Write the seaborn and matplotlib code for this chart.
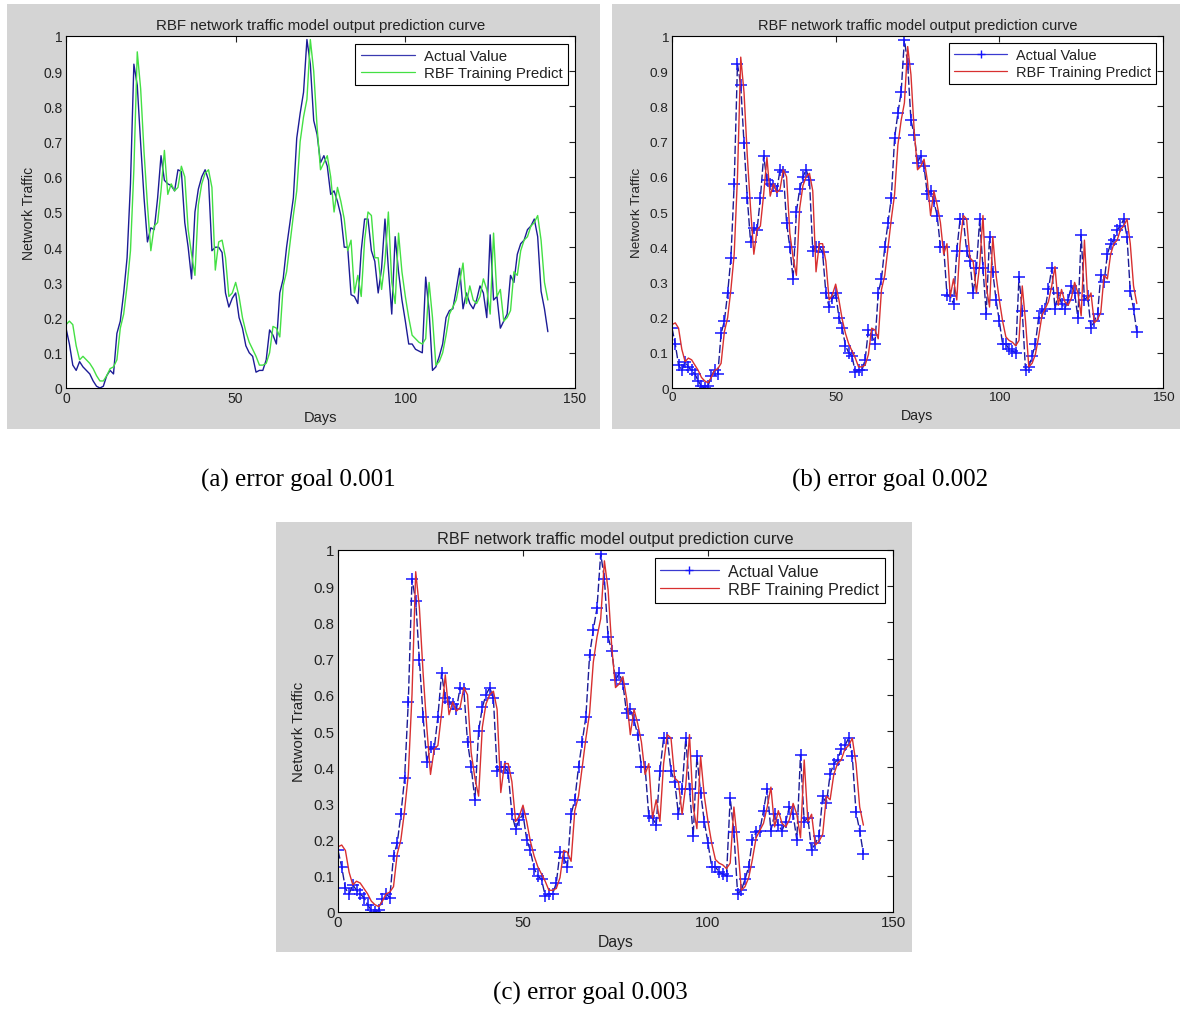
import numpy as np
import pandas as pd
import matplotlib
matplotlib.use('Agg')
import matplotlib.pyplot as plt
from matplotlib.patches import Rectangle
from matplotlib.lines import Line2D
from matplotlib.ticker import FuncFormatter
import seaborn as sns

sns.set_theme(style='white')
plt.rcParams['font.family'] = ['Liberation Sans', 'DejaVu Sans']

# Daily network traffic (normalised)
actual = [0.17, 0.125, 0.065, 0.05, 0.075, 0.06, 0.05, 0.04, 0.02, 0.005,
          0.0, 0.005, 0.035, 0.05, 0.04, 0.155, 0.19, 0.27, 0.37, 0.58,
          0.92, 0.86, 0.695, 0.54, 0.415, 0.455, 0.45, 0.54, 0.66, 0.59,
          0.58, 0.575, 0.56, 0.62, 0.615, 0.47, 0.40, 0.31, 0.50, 0.565,
          0.60, 0.62, 0.59, 0.39, 0.40, 0.40, 0.385, 0.27, 0.23, 0.255,
          0.27, 0.20, 0.17, 0.12, 0.10, 0.09, 0.045, 0.05, 0.05, 0.08,
          0.165, 0.15, 0.125, 0.27, 0.31, 0.40, 0.47, 0.54, 0.71, 0.78,
          0.84, 0.99, 0.92, 0.76, 0.72, 0.64, 0.66, 0.63, 0.55, 0.56,
          0.53, 0.49, 0.40, 0.40, 0.265, 0.26, 0.24, 0.39, 0.48, 0.48,
          0.39, 0.36, 0.27, 0.34, 0.48, 0.34, 0.21, 0.43, 0.33, 0.25,
          0.19, 0.125, 0.125, 0.11, 0.105, 0.10, 0.315, 0.22, 0.05, 0.06,
          0.09, 0.125, 0.20, 0.22, 0.225, 0.28, 0.34, 0.225, 0.27, 0.24,
          0.225, 0.25, 0.29, 0.27, 0.20, 0.435, 0.25, 0.26, 0.17, 0.19,
          0.21, 0.32, 0.30, 0.38, 0.41, 0.42, 0.45, 0.46, 0.48, 0.43,
          0.275, 0.225, 0.16]

# RBF prediction, error goal 0.001
pred_a = [0.18, 0.19, 0.18, 0.12, 0.08, 0.09, 0.08, 0.07, 0.055, 0.035,
          0.02, 0.02, 0.035, 0.055, 0.06, 0.08, 0.17, 0.21, 0.29, 0.39,
          0.62, 0.955, 0.85, 0.67, 0.52, 0.39, 0.46, 0.47, 0.56, 0.675,
          0.55, 0.58, 0.56, 0.57, 0.63, 0.60, 0.45, 0.38, 0.32, 0.52,
          0.58, 0.61, 0.62, 0.57, 0.335, 0.415, 0.42, 0.37, 0.26, 0.27,
          0.30, 0.26, 0.20, 0.16, 0.13, 0.11, 0.09, 0.065, 0.065, 0.07,
          0.10, 0.175, 0.17, 0.145, 0.29, 0.33, 0.41, 0.49, 0.56, 0.70,
          0.77, 0.82, 0.99, 0.90, 0.74, 0.62, 0.64, 0.66, 0.60, 0.50,
          0.57, 0.53, 0.48, 0.39, 0.42, 0.27, 0.32, 0.26, 0.42, 0.50,
          0.49, 0.37, 0.37, 0.28, 0.36, 0.50, 0.30, 0.24, 0.44, 0.33,
          0.26, 0.20, 0.15, 0.14, 0.13, 0.125, 0.14, 0.30, 0.20, 0.065,
          0.075, 0.10, 0.15, 0.21, 0.23, 0.25, 0.30, 0.355, 0.24, 0.29,
          0.25, 0.24, 0.26, 0.31, 0.28, 0.21, 0.44, 0.26, 0.28, 0.19,
          0.20, 0.22, 0.33, 0.32, 0.39, 0.42, 0.43, 0.46, 0.47, 0.49,
          0.42, 0.30, 0.25]

# RBF prediction, error goals 0.002 / 0.003
pred_bc = [0.18, 0.185, 0.17, 0.11, 0.075, 0.085, 0.08, 0.065, 0.05, 0.03,
           0.02, 0.015, 0.03, 0.05, 0.055, 0.07, 0.16, 0.2, 0.28, 0.38,
           0.6, 0.94, 0.84, 0.66, 0.51, 0.38, 0.45, 0.46, 0.55, 0.655,
           0.545, 0.58, 0.555, 0.565, 0.62, 0.6, 0.44, 0.37, 0.32, 0.51,
           0.575, 0.6, 0.61, 0.56, 0.33, 0.41, 0.41, 0.36, 0.25, 0.265,
           0.295, 0.25, 0.195, 0.155, 0.125, 0.105, 0.085, 0.06, 0.06, 0.065,
           0.095, 0.17, 0.165, 0.14, 0.28, 0.32, 0.4, 0.48, 0.55, 0.69,
           0.76, 0.81, 0.97, 0.89, 0.73, 0.62, 0.63, 0.65, 0.59, 0.49,
           0.56, 0.52, 0.47, 0.38, 0.41, 0.26, 0.31, 0.25, 0.41, 0.49,
           0.48, 0.37, 0.36, 0.27, 0.35, 0.49, 0.29, 0.23, 0.43, 0.32,
           0.25, 0.19, 0.145, 0.135, 0.13, 0.12, 0.135, 0.29, 0.19, 0.06,
           0.07, 0.095, 0.145, 0.205, 0.225, 0.245, 0.29, 0.345, 0.235, 0.28,
           0.245, 0.235, 0.255, 0.3, 0.27, 0.205, 0.42, 0.25, 0.27, 0.185,
           0.195, 0.215, 0.32, 0.31, 0.38, 0.41, 0.42, 0.45, 0.46, 0.48,
           0.41, 0.29, 0.24]

days = np.arange(len(actual))
captions = ['(a) error goal 0.001', '(b) error goal 0.002', '(c) error goal 0.003']
title = 'RBF network traffic model output prediction curve'

grey = '#d4d4d4'
navy = '#1c1c96'

fig = plt.figure(figsize=(11.8, 10.12), dpi=100)
fig.patch.set_facecolor('white')

# panel layouts in pixels: grey box (x0, y0, x1, y1), axes (x0, y0, x1, y1)
W, H = 1180.0, 1012.0
panels = [
    dict(box=(7, 5, 600, 430), ax=(66, 37, 575, 389), pred=pred_a,
         pcolor='#44e044', markers=False, cap=(298, 480), fs=1.0),
    dict(box=(612, 5, 1180, 430), ax=(672, 37, 1163, 389), pred=pred_bc,
         pcolor='#d83030', markers=True, cap=(890, 480), fs=0.97),
    dict(box=(276, 523, 912, 953), ax=(338, 551, 893, 913), pred=pred_bc,
         pcolor='#d83030', markers=True, cap=(590, 993), fs=1.08),
]

def fmt(v, pos):
    return '%g' % round(v, 2)

for i, p in enumerate(panels):
    fs = p['fs']
    bx0, by0, bx1, by1 = p['box']
    fig.patches.append(Rectangle((bx0 / W, 1 - by1 / H), (bx1 - bx0) / W, (by1 - by0) / H,
                                 transform=fig.transFigure, facecolor=grey,
                                 edgecolor='none', zorder=-10))
    ax0, ay0, ax1, ay1 = p['ax']
    ax = fig.add_axes([ax0 / W, 1 - ay1 / H, (ax1 - ax0) / W, (ay1 - ay0) / H])
    ax.set_zorder(5)
    ax.set_facecolor('white')

    if p['markers']:
        sns.lineplot(x=days, y=actual, ax=ax, color=navy, linewidth=1.0,
                     linestyle=(0, (6, 2)), marker='+', markersize=8.5 * fs,
                     markeredgecolor='#1515ff', markeredgewidth=1.1,
                     legend=False)
        h_act = Line2D([], [], color='#3a3ad0', linewidth=0.9, marker='+',
                       markersize=6, markeredgecolor='#1515ff')
    else:
        sns.lineplot(x=days, y=actual, ax=ax, color=navy, linewidth=1.0,
                     legend=False)
        h_act = Line2D([], [], color='#3a3ab0', linewidth=0.9)
    sns.lineplot(x=days, y=p['pred'], ax=ax, color=p['pcolor'], linewidth=1.0,
                 legend=False)
    h_pred = Line2D([], [], color=p['pcolor'], linewidth=0.9)

    ax.set_xlim(0, 150)
    ax.set_ylim(0, 1)
    ax.set_xticks([0, 50, 100, 150])
    ax.set_yticks(np.linspace(0, 1, 11))
    ax.yaxis.set_major_formatter(FuncFormatter(fmt))
    ax.tick_params(direction='in', top=True, right=True, length=4, width=0.8,
                   labelsize=10 * fs, colors='#222222', pad=2.5)
    for s in ax.spines.values():
        s.set_color('black')
        s.set_linewidth(0.8)
    ax.set_title(title, fontsize=10.8 * fs, pad=5, color='#222222')
    ax.set_xlabel('Days', fontsize=10.5 * fs, labelpad=3, color='#222222')
    ax.set_ylabel('Network Traffic', fontsize=10 * fs, labelpad=5, color='#222222')
    leg = ax.legend([h_act, h_pred], ['Actual Value', 'RBF Training Predict'],
                    loc='upper right', fontsize=10.8 * fs, frameon=True,
                    fancybox=False, edgecolor='black', framealpha=1,
                    borderaxespad=0.5, handlelength=3.6, handletextpad=0.6,
                    borderpad=0.35, labelspacing=0.2)
    leg.get_frame().set_linewidth(0.8)
    for t in leg.get_texts():
        t.set_color('#222222')

    cx, cy = p['cap']
    fig.text(cx / W, 1 - cy / H, captions[i], ha='center', va='center',
             fontsize=18, color='black', family=['Liberation Serif', 'DejaVu Serif'])

fig.savefig('out.png', dpi=100)
